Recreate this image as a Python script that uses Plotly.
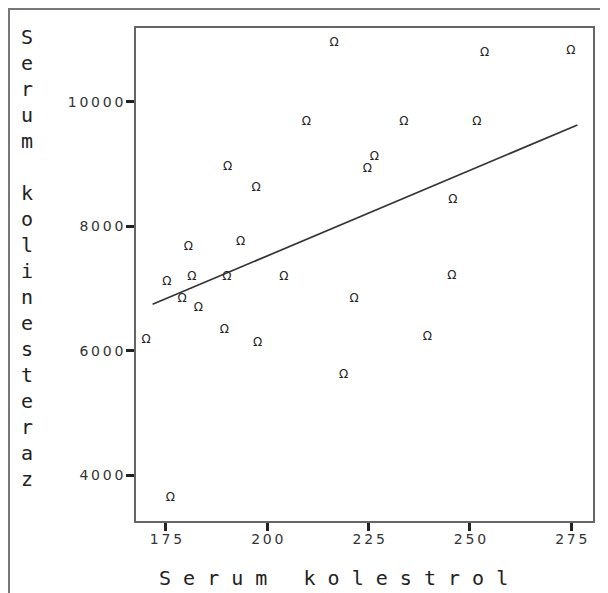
import plotly.graph_objects as go

# Data (serum cholesterol vs serum cholinesterase)
kolestrol = [216.5, 253.6, 274.9, 209.6, 233.7, 251.7, 190.2, 226.4, 224.7,
             197.2, 245.8, 180.5, 193.4, 175.2, 181.4, 190.0, 204.1, 245.5,
             179.0, 221.4, 183.0, 170.1, 189.4, 197.6, 218.8, 176.1, 239.5]
kolinesteraz = [10938, 10787, 10820, 9679, 9679, 9679, 8955, 9107, 8914,
                8608, 8420, 7670, 7750, 7103, 7183, 7183, 7183, 7194,
                6829, 6834, 6685, 6171, 6326, 6122, 5608, 3631, 6224]

# Fit line as drawn in the reference (end points)
fit_kolestrol = [171.7, 276.5]
fit_kolinesteraz = [6744, 9626]

x_tickvals = [175, 200, 225, 250, 275]
x_ticktext = ["175", "200", "225", "250", "275"]
y_tickvals = [4000, 6000, 8000, 10000]
y_ticktext = ["4000", "6000", "8000", "10000"]

x_title = "Serum kolestrol"
y_title = "Serum kolinesteraz"

# The page body has an 8px margin; figure pixel = screen pixel - 8
OFF = 8
W, H = 600, 585
ml, mr, mt, mb = 128, 15, 20, 72
pw, ph = W - ml - mr, H - mt - mb


def sx(px):  # screen x -> paper x
    return (px - OFF - ml) / pw


def sy(py):  # screen y -> paper y
    return (H - mb - (py - OFF)) / ph


THIN = "\u2009"
def spaced(s):
    return THIN.join(s)


fig = go.Figure()
fig.add_trace(go.Scatter(
    x=kolestrol, y=kolinesteraz, mode="text", text=["Ω"] * len(kolestrol),
    textfont=dict(family="DejaVu Sans", size=12, color="#222222"),
    textposition="middle center", showlegend=False, hoverinfo="x+y"))
fig.add_trace(go.Scatter(
    x=fit_kolestrol, y=fit_kolinesteraz, mode="lines",
    line=dict(color="#333333", width=1.7), showlegend=False))

axis_common = dict(showgrid=False, zeroline=False, showline=True, mirror=True,
                   linecolor="#666666", linewidth=1.5, ticks="outside",
                   ticklen=8, tickwidth=2.5, tickcolor="#222222",
                   tickfont=dict(family="DejaVu Sans", size=14, color="#333333"))

fig.update_xaxes(range=[167.6, 280.35], tickvals=x_tickvals,
                 ticktext=[spaced(t) for t in x_ticktext],
                 ticklabelstandoff=-4, **axis_common)
fig.update_yaxes(range=[3262, 11184], tickvals=y_tickvals,
                 ticktext=[spaced(t) for t in y_ticktext], **axis_common)

# Stacked vertical y title, letter per line
y_lines = "<br>".join(ch if ch != " " else "\u00a0" for ch in y_title)
spaced_x = "   ".join(" ".join(word) for word in x_title.split(" "))

fig.update_layout(
    width=W, height=H,
    margin=dict(l=ml, r=mr, t=mt, b=mb),
    paper_bgcolor="white", plot_bgcolor="white",
    annotations=[
        dict(text=y_lines, xref="paper", yref="paper",
             x=sx(27), y=sy(257.5),
             xanchor="center", yanchor="middle", showarrow=False, align="center",
             font=dict(family="DejaVu Sans Mono", size=20, color="#222222")),
        dict(text=spaced_x, xref="paper", yref="paper",
             x=sx(333.5), y=sy(578),
             xanchor="center", yanchor="middle", showarrow=False,
             font=dict(family="DejaVu Sans Mono", size=20, color="#222222")),
    ],
    shapes=[
        dict(type="rect", xref="paper", yref="paper",
             x0=sx(9), x1=sx(603),
             y0=sy(610), y1=sy(9),
             line=dict(color="#777777", width=2), fillcolor="rgba(0,0,0,0)",
             layer="below"),
    ],
)

fig.write_html("out.html")
